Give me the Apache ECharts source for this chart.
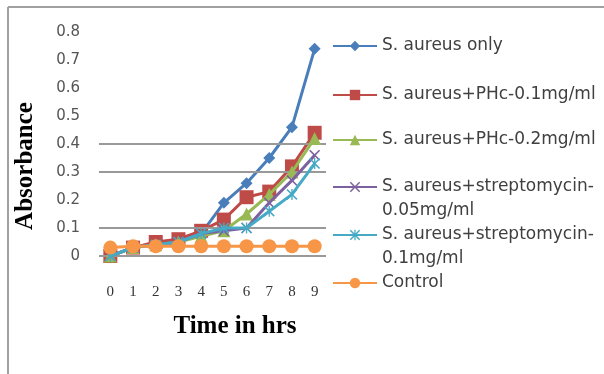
<!DOCTYPE html>
<html>
<head>
<meta charset="utf-8">
<script src="https://cdn.jsdelivr.net/npm/echarts@6/dist/echarts.min.js"></script>
<style>html,body{margin:0;padding:0;background:#fff}#c{width:604px;height:374px}</style>
</head>
<body>
<div id="c"></div>
<script>
const hours = ['0','1','2','3','4','5','6','7','8','9'];
const aureusOnly = [0.00, 0.03, 0.04, 0.05, 0.08, 0.19, 0.26, 0.35, 0.46, 0.74];
const phc01 = [0.00, 0.03, 0.05, 0.06, 0.09, 0.13, 0.21, 0.23, 0.32, 0.44];
const phc02 = [0.00, 0.03, 0.04, 0.05, 0.07, 0.09, 0.15, 0.22, 0.30, 0.42];
const strep005 = [0.00, 0.03, 0.04, 0.05, 0.08, 0.09, 0.10, 0.19, 0.27, 0.36];
const strep01 = [0.00, 0.03, 0.04, 0.05, 0.08, 0.10, 0.10, 0.16, 0.22, 0.33];
const control = [0.03, 0.035, 0.035, 0.035, 0.035, 0.035, 0.035, 0.035, 0.035, 0.035];
const gridValues = [0, 0.1, 0.3, 0.4];   // gridlines visible in the reference
const seriesNames = ['S. aureus only','S. aureus+PHc-0.1mg/ml','S. aureus+PHc-0.2mg/ml',
  'S. aureus+streptomycin-0.05mg/ml','S. aureus+streptomycin-0.1mg/ml','Control'];
const legendLabels = ['S. aureus only','S. aureus+PHc-0.1mg/ml','S. aureus+PHc-0.2mg/ml',
  '\nS. aureus+streptomycin-\n0.05mg/ml','\nS. aureus+streptomycin-\n0.1mg/ml','Control'];
const xTitle = 'Time in hrs';
const yTitle = 'Absorbance';

const colors = ['#4A7EBB','#BE4B48','#98B954','#7D60A0','#46AAC5','#F79646'];
const crossPath = 'path://M0,1 L1,0 L5,4 L9,0 L10,1 L6,5 L10,9 L9,10 L5,6 L1,10 L0,9 L4,5 Z';
const starPath = 'path://M0,1 L1,0 L5,4 L9,0 L10,1 L6,5 L10,9 L9,10 L5,6 L1,10 L0,9 L4,5 Z M4.4,0 L5.6,0 L5.6,10 L4.4,10 Z';
const symbols = ['diamond','rect','triangle',crossPath,starPath,'circle'];
const symbolSizes = [12,14,13,11,11,14];
const dataSets = [aureusOnly, phc01, phc02, strep005, strep01, control];
const legendCenters = [41, 90, 135, 182, 230, 278];

const chart = echarts.init(document.getElementById('c'));

const series = seriesNames.map((n,i)=>{
  const s = {
    name:n, type:'line', data:dataSets[i], symbol:symbols[i], symbolSize:symbolSizes[i],
    itemStyle:{color:colors[i]}, lineStyle:{color:colors[i], width:3},
    z: 3+i
  };
  if (i === 0) {
    s.markLine = {
      silent:true, symbol:'none', label:{show:false},
      lineStyle:{color:'#999999', width:2, type:'solid'},
      emphasis:{disabled:true},
      data: gridValues.map(v=>({yAxis:v}))
    };
  }
  return s;
});

const legends = seriesNames.map((n,i)=>{
  const multi = legendLabels[i].indexOf('\n')>=0;
  return {
    data:[n], left:327, top: legendCenters[i] - (multi?36:12),
    itemWidth:44, itemHeight:13, itemGap:0, orient:'vertical',
    formatter: ()=>legendLabels[i],
    textStyle:{fontFamily:'DejaVu Sans', fontSize:17, color:'#404040', lineHeight:24},
    selectedMode:false
  };
});

chart.setOption({
  animation:false,
  grid:{left:99, right:278, top:32, bottom:118},
  legend: legends,
  xAxis:{
    type:'category', data:hours, boundaryGap:true,
    axisLine:{show:false}, axisTick:{show:false},
    axisLabel:{margin:29, fontFamily:'Liberation Serif', fontSize:15, color:'#333'}
  },
  yAxis:{
    type:'value', min:0, max:0.8, interval:0.1,
    axisLine:{show:false}, axisTick:{show:false}, splitLine:{show:false},
    axisLabel:{margin:19, fontFamily:'DejaVu Sans', fontSize:15, color:'#555'}
  },
  graphic:[
    {type:'line', shape:{x1:8,y1:7,x2:604,y2:7}, style:{stroke:'#a0a0a0', lineWidth:2}, silent:true},
    {type:'line', shape:{x1:8,y1:7,x2:8,y2:374}, style:{stroke:'#a0a0a0', lineWidth:2}, silent:true},
    {type:'text', x:235, y:327, silent:true,
      style:{text:xTitle, font:'bold 25px "Liberation Serif"', fill:'#000', textAlign:'center', textVerticalAlign:'middle'}},
    {type:'text', x:26, y:166, rotation:Math.PI/2, silent:true,
      style:{text:yTitle, font:'bold 25px "Liberation Serif"', fill:'#000', textAlign:'center', textVerticalAlign:'middle'}}
  ],
  series: series
});
</script>
</body>
</html>
